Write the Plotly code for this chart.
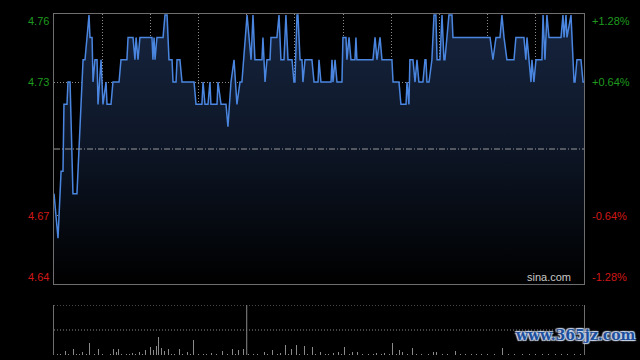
import plotly.graph_objects as go

# ---- data ----
prev_close = 4.70
# minutes after 09:30 (trading minutes, 0..330) and prices at line vertices
minutes = [0.0, 2.5, 4.4, 5.6, 6.2, 8.1, 8.7, 10.0, 11.8, 14.3, 18.1, 19.3, 21.8, 22.4, 23.7, 24.3,
           25.5, 26.8, 27.4, 29.3, 30.5, 32.4, 33.0, 35.5, 36.7, 40.5, 41.7, 45.4, 46.1, 49.2, 50.4,
           51.1, 52.3, 53.5, 61.0, 61.6, 62.3, 62.9, 64.1, 67.9, 69.1, 70.4, 71.6, 73.5, 74.1, 76.0,
           76.6, 78.4, 79.7, 87.2, 88.4, 92.1, 92.8, 94.0, 95.9, 97.1, 97.7, 101.5, 102.1, 104.0,
           107.1, 108.3, 110.2, 112.1, 113.9, 115.8, 117.0, 120.2, 122.7, 123.9, 125.1, 129.5,
           130.1, 131.4, 132.6, 134.5, 135.1, 138.8, 140.1, 141.3, 143.2, 144.4, 145.7, 148.2,
           149.4, 150.0, 151.3, 151.9, 153.2, 154.4, 155.0, 156.3, 160.6, 161.9, 164.4, 165.0,
           166.2, 172.5, 173.1, 173.7, 175.0, 176.2, 179.3, 179.9, 181.8, 182.4, 183.7, 184.9,
           187.4, 188.0, 188.6, 198.6, 199.9, 201.1, 203.0, 204.2, 210.4, 211.1, 214.8, 216.0,
           219.2, 219.8, 221.0, 221.6, 223.5, 224.8, 226.0, 227.2, 229.7, 231.0, 231.6, 232.2,
           233.5, 235.3, 236.6, 237.8, 238.5, 240.3, 241.6, 242.8, 243.4, 245.9, 247.8, 248.4,
           271.5, 273.3, 275.2, 277.7, 278.9, 280.2, 282.0, 286.4, 287.6, 292.6, 293.8, 294.5,
           297.0, 297.6, 298.8, 300.1, 303.8, 304.5, 305.7, 306.9, 308.2, 315.7, 316.9, 317.6,
           318.8, 319.4, 321.9, 322.5, 323.8, 324.4, 325.6, 328.1, 329.4, 330.0]
prices = [4.68, 4.66, 4.69, 4.69, 4.72, 4.72, 4.73, 4.73, 4.68, 4.68, 4.74, 4.74, 4.76, 4.75, 4.75, 4.73,
          4.74, 4.74, 4.72, 4.74, 4.72, 4.73, 4.72, 4.72, 4.73, 4.73, 4.74, 4.74, 4.75, 4.75, 4.74,
          4.75, 4.74, 4.75, 4.75, 4.74, 4.75, 4.74, 4.75, 4.75, 4.76, 4.76, 4.74, 4.74, 4.73, 4.73,
          4.74, 4.74, 4.73, 4.73, 4.72, 4.72, 4.73, 4.72, 4.72, 4.73, 4.72, 4.72, 4.73, 4.72,
          4.72, 4.71, 4.73, 4.74, 4.72, 4.73, 4.73, 4.76, 4.74, 4.76, 4.74, 4.74,
          4.75, 4.73, 4.74, 4.74, 4.75, 4.75, 4.76, 4.74, 4.74, 4.76, 4.74, 4.74,
          4.73, 4.73, 4.76, 4.76, 4.74, 4.74, 4.73, 4.74, 4.74, 4.73, 4.73, 4.74,
          4.73, 4.73, 4.74, 4.73, 4.74, 4.73, 4.73, 4.75, 4.75, 4.74, 4.75, 4.74,
          4.74, 4.75, 4.74, 4.74, 4.75, 4.74, 4.75, 4.74, 4.74, 4.73, 4.73, 4.72,
          4.72, 4.73, 4.72, 4.74, 4.74, 4.73, 4.74, 4.73, 4.73, 4.74, 4.74, 4.73,
          4.73, 4.74, 4.76, 4.76, 4.74, 4.74, 4.76, 4.74, 4.74, 4.76, 4.76, 4.75,
          4.75, 4.74, 4.75, 4.75, 4.76, 4.75, 4.74, 4.74, 4.75, 4.75, 4.74, 4.75,
          4.73, 4.74, 4.73, 4.74, 4.74, 4.76, 4.74, 4.76, 4.75, 4.75, 4.76, 4.75,
          4.76, 4.75, 4.76, 4.75, 4.73, 4.73, 4.74, 4.74, 4.73, 4.73]

vol_minutes = [0, 7, 12, 18, 22, 28, 33, 37, 39, 40, 49, 53, 57, 60, 62, 64, 65, 67, 69, 71, 78, 83,
               87, 98, 105, 111, 115, 118, 131, 136, 141, 144, 148, 151, 156, 161, 166, 174, 177,
               181, 186, 189, 201, 206, 211, 215, 217, 223, 236, 238, 250, 279]
vol_values = [4, 4, 6, 3, 12, 6, 3, 6, 3, 6, 2, 3, 5, 8, 5, 9, 18, 7, 4, 6, 6, 3,
              15, 2, 4, 6, 5, 6, 3, 5, 2, 10, 6, 10, 9, 8, 3, 2, 3,
              8, 3, 3, 2, 2, 12, 5, 3, 7, 3, 3, 4, 7]
small_minutes = [2, 4, 9, 14, 16, 20, 25, 30, 35, 42, 45, 47, 51, 55, 73, 75, 80, 85, 90, 93, 95,
                 101, 108, 113, 121, 124, 127, 133, 139, 146, 153, 158, 163, 169, 171, 179, 184,
                 192, 196, 199, 204, 209, 213, 220, 226, 229, 233, 242, 245, 253, 256, 260, 263,
                 266, 270, 274, 283, 287, 292, 296, 300, 304, 308, 312, 316, 320, 324, 328]
small_values = [1] * len(small_minutes)

left_ticks = [4.76, 4.73, 4.67, 4.64]
right_ticks = ["+1.28%", "+0.64%", "-0.64%", "-1.28%"]

# ---- figure ----
GREEN = "#1f9a1f"
RED = "#d01818"
GRID = "#8a8a8a"
BORDER = "#6e6e6e"
DOTS = "1px,2px"

fig = go.Figure()

fig.add_trace(go.Scatter(
    x=minutes, y=prices, mode="lines",
    line=dict(color="#4a86e0", width=1.5),
    fill="tozeroy",
    fillgradient=dict(type="vertical", start=4.64, stop=4.76,
                      colorscale=[[0, "#000000"], [0.5, "#0d1626"], [1, "#16243e"]]),
    hoverinfo="skip", xaxis="x", yaxis="y"))

fig.add_trace(go.Bar(x=small_minutes, y=small_values, width=0.6,
                     marker=dict(color="#8a8a8a", line=dict(width=0)),
                     hoverinfo="skip", xaxis="x2", yaxis="y2"))
fig.add_trace(go.Bar(x=vol_minutes, y=vol_values, width=0.6,
                     marker=dict(color="#8a8a8a", line=dict(width=0)),
                     hoverinfo="skip", xaxis="x2", yaxis="y2"))

xd = [54 / 640, 584 / 640]
fig.update_layout(
    width=640, height=360,
    margin=dict(l=0, r=0, t=0, b=0),
    paper_bgcolor="#000000", plot_bgcolor="#000000",
    showlegend=False, barmode="overlay", bargap=0,
    xaxis=dict(domain=xd, range=[0, 330], tickvals=list(range(30, 330, 30)),
               showticklabels=False, showgrid=True, gridcolor=GRID, griddash=DOTS,
               gridwidth=1, zeroline=False, showline=True, linecolor=BORDER, linewidth=1,
               mirror=True, ticks=""),
    yaxis=dict(domain=[76 / 360, 346 / 360], range=[4.6395, 4.7605],
               tickvals=[4.67, 4.73], showticklabels=False, showgrid=True,
               gridcolor=GRID, griddash=DOTS, gridwidth=1, zeroline=False,
               showline=True, linecolor=BORDER, linewidth=1, mirror=True, ticks=""),
    xaxis2=dict(domain=xd, range=[0, 330], showticklabels=False, showgrid=False,
                zeroline=False, showline=False, ticks="", anchor="y2"),
    yaxis2=dict(domain=[5 / 360, 55 / 360], range=[0, 50], showticklabels=False,
                showgrid=False, zeroline=False, showline=True, linecolor=BORDER,
                linewidth=1, mirror=True, ticks="", anchor="x2"),
)

# previous-close dash-dot line
fig.add_shape(type="line", xref="x", yref="y", x0=0, x1=330, y0=prev_close, y1=prev_close,
              line=dict(color="#9a9a9a", width=1, dash="6px,2px,1px,2px"))
# volume grid lines
for v in [25, 50]:
    fig.add_shape(type="line", xref="x2", yref="y2", x0=0, x1=330, y0=v, y1=v,
                  line=dict(color=GRID, width=1, dash=DOTS))
fig.add_shape(type="line", xref="x2", yref="y2", x0=120, x1=120, y0=0, y1=50,
              line=dict(color="#8a8a8a", width=1))

# axis labels
font = dict(family="Liberation Sans, Arial, sans-serif", size=11)
left_shift = [-6, 0, 0, 6]
for val, txt, dy in zip(left_ticks, right_ticks, left_shift):
    col = GREEN if val > prev_close else RED
    fig.add_annotation(x=51 / 640, xref="paper", y=val, yref="y", yshift=dy,
                       text=f"{val:.2f}", showarrow=False, xanchor="right",
                       font=dict(color=col, **font))
    fig.add_annotation(x=590 / 640, xref="paper", y=val, yref="y", yshift=dy,
                       text=txt, showarrow=False, xanchor="left",
                       font=dict(color=col, **font))

fig.add_annotation(x=573 / 640, xref="paper", y=4.64, yref="y", yshift=6,
                   text="sina.com", showarrow=False, xanchor="right",
                   font=dict(color="#c8c8c8", family="Liberation Sans, Arial, sans-serif", size=11))

fig.add_annotation(x=575 / 640, xref="paper", y=15 / 360, yref="paper",
                   text="<b>www.365jz.com</b>", showarrow=False, xanchor="center",
                   font=dict(color="#1d4f9c", family="DejaVu Serif, serif", size=14,
                             shadow="1px 1px 1px #c8d4e8, -1px -1px 1px #c8d4e8, 1px -1px 1px #c8d4e8, -1px 1px 1px #c8d4e8"))

fig.write_html("out.html", config={"displayModeBar": False, "staticPlot": True},
               post_script="document.body.style.margin='0';document.body.style.background='#000';")
